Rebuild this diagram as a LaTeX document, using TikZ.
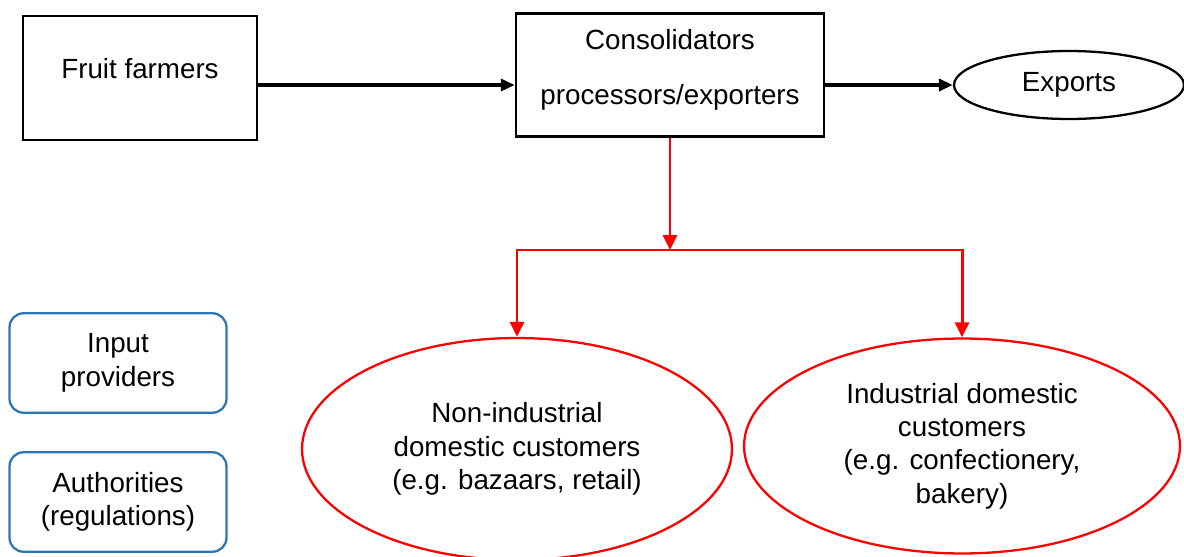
\documentclass[tikz,border=0pt]{standalone}
\usepackage{fontspec}
\setmainfont{Liberation Sans}
\usetikzlibrary{shapes.geometric,arrows.meta}
\definecolor{boxblue}{RGB}{46,117,182}
\begin{document}
\begin{tikzpicture}[x=0.02cm, y=-0.02cm,
    every node/.style={font=\fontsize{15.8}{19}\selectfont, align=center, inner sep=0pt},
    plain/.style={rectangle, draw, line width=1.4pt},
    oval/.style={ellipse, draw, line width=1.3pt},
    side/.style={rectangle, rounded corners=2.8mm, draw=boxblue, line width=1.3pt, minimum width=4.34cm, minimum height=1.99cm},
    arr/.style={line width=1.9pt, -{Triangle[length=2.8mm,width=2.4mm]}},
    redarr/.style={red, line width=1.7pt, -{Triangle[length=3mm,width=2.8mm]}}]
    \useasboundingbox (0,0) rectangle (1184,557);
    \clip (0,0) rectangle (1184,557);

    % Cadena principal
    \node[plain, minimum width=4.68cm, minimum height=2.48cm] (farm) at (140,78) {Fruit farmers\rule[-0.4cm]{0pt}{0pt}};
    \node[plain, minimum width=6.16cm, minimum height=2.46cm] (cons) at (670,75) {Consolidators\\[12pt]processors/exporters\rule[-0.33cm]{0pt}{0pt}};
    \node[oval, minimum width=4.6cm, minimum height=1.36cm] (exp) at (1069,85) {Exports};
    \draw[arr] (farm.east |- exp.west) -- (cons.west |- exp.west);
    \draw[arr] (cons.east |- exp.west) -- (exp.west);

    % Mercado interno
    \node[oval, draw=red, minimum width=8.6cm, minimum height=4.44cm] (noind) at (517,449) {Non-industrial\\domestic customers\\(e.g. bazaars, retail)};
    \node[oval, draw=red, minimum width=8.72cm, minimum height=4.3cm] (ind) at (962,446) {Industrial domestic\\customers\\(e.g. confectionery,\\bakery)};
    \coordinate (split) at (cons.south |- 0,250);
    \draw[redarr] (cons.south) -- (split);
    \draw[redarr] (split) -| (noind.north);
    \draw[redarr] (split) -| (ind.north);

    % Otros actores
    \node[side] (input) at (118,363) {Input\\providers};
    \node[side] (auth) at (118,502) {Authorities\\(regulations)};
\end{tikzpicture}
\end{document}
